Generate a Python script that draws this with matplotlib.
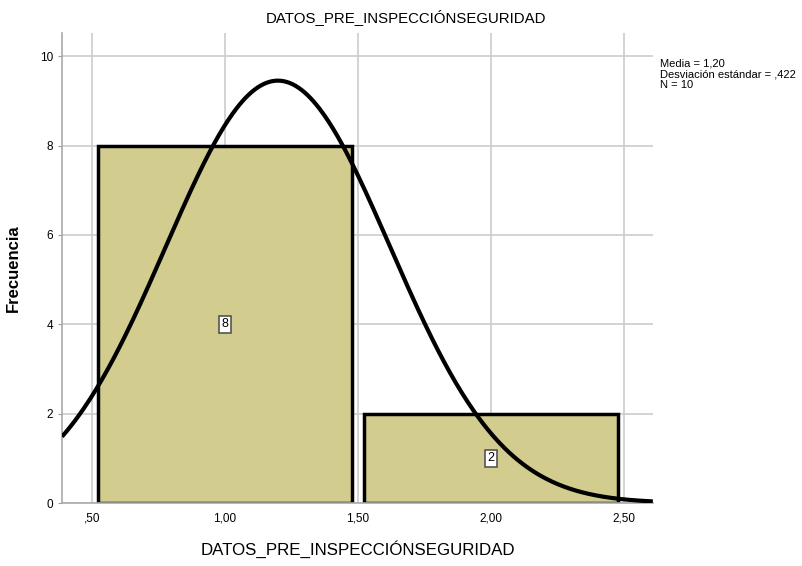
import numpy as np
import matplotlib
matplotlib.use("Agg")
from matplotlib import pyplot as plt

plt.rcParams['font.family'] = ['Liberation Sans', 'DejaVu Sans']

titulo = "DATOS_PRE_INSPECCIÓNSEGURIDAD"
centros = [1.0, 2.0]
frecuencias = [8, 2]
media = 1.20
desv = 0.422
n = 10
ancho_clase = 1.0
xticks = [0.5, 1.0, 1.5, 2.0, 2.5]
xtick_labels = [",50", "1,00", "1,50", "2,00", "2,50"]
yticks = [0, 2, 4, 6, 8, 10]

fig = plt.figure(figsize=(8.03, 5.66), dpi=100)
ax = fig.add_axes([0.0772, 0.1113, 0.7358, 0.8304])

ax.bar(centros, frecuencias, width=0.955, color="#D2CC8E", edgecolor="black",
       linewidth=2.5, zorder=2)

for c, f in zip(centros, frecuencias):
    ax.text(c, f / 2, str(f), ha="center", va="center", fontsize=9, zorder=4,
            bbox=dict(boxstyle="square,pad=0.2", fc="white", ec="#555555", lw=1.2))

x = np.linspace(0.388, 2.61, 400)
y = n * ancho_clase / (desv * np.sqrt(2 * np.pi)) * np.exp(-0.5 * ((x - media) / desv) ** 2)
ax.plot(x, y, color="black", lw=3, zorder=3, solid_capstyle="butt")

ax.set_xlim(0.388, 2.61)
ax.set_ylim(0, 10.52)
ax.set_xticks(xticks)
ax.set_xticklabels(xtick_labels)
ax.set_yticks(yticks)
ax.tick_params(axis="x", length=0, labelsize=8.5, pad=7)
ax.tick_params(axis="y", length=3, labelsize=8.5, color="#999999")
ax.grid(True, color="#cccccc", lw=1.2, zorder=0)
ax.set_axisbelow(True)
for s in ["top", "right"]:
    ax.spines[s].set_visible(False)
for s in ["left", "bottom"]:
    ax.spines[s].set_color("#aaaaaa")
    ax.spines[s].set_linewidth(1.2)

ax.set_ylabel("Frecuencia", fontsize=12, fontweight="bold")
ax.yaxis.set_label_coords(-0.069, 0.5)
ax.set_xlabel(titulo, fontsize=12.2)
ax.xaxis.set_label_coords(0.5, -0.08)
fig.text(0.505, 0.97, titulo, ha="center", va="center", fontsize=10.8)

fig.text(0.822, 0.896, "Media = 1,20\nDesviación estándar = ,422\nN = 10",
         ha="left", va="top", fontsize=8, linespacing=1.1)

fig.savefig("out.png", dpi=100)
